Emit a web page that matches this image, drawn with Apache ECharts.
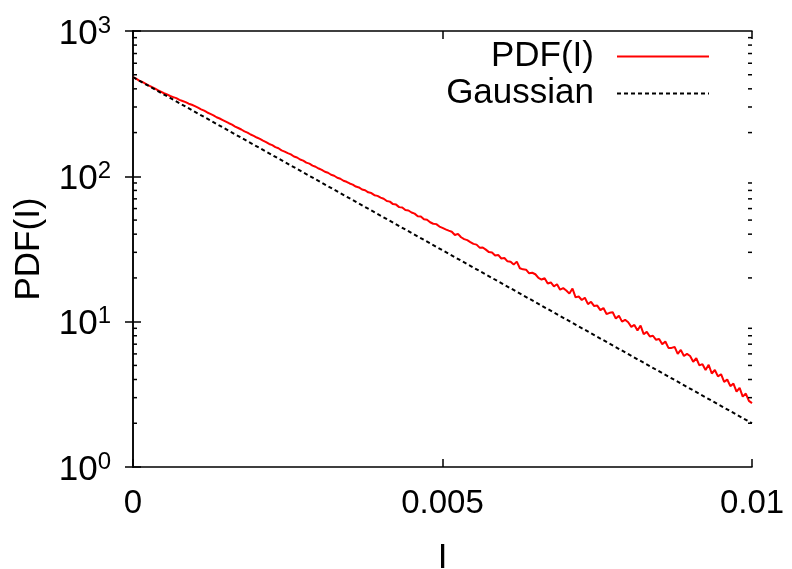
<!DOCTYPE html>
<html>
<head>
<meta charset="utf-8">
<script src="https://cdn.jsdelivr.net/npm/echarts@6/dist/echarts.min.js"></script>
<style>
  html, body { margin: 0; padding: 0; background: #fff; }
  #chart { width: 792px; height: 569px; }
</style>
</head>
<body>
<div id="chart"></div>
<script>
// histogram of intensity, bin width 0.00005
var binWidth = 0.00005;
var pdfValues = [
    481, 470, 456, 446, 435, 423, 412, 403, 392, 383,
    373, 366, 357, 351, 345, 336, 330, 324, 316, 311,
    304, 297, 289, 283, 275, 269, 263, 255, 250, 244,
    238, 232, 227, 220, 215, 210, 204, 200, 194, 190,
    185, 181, 176, 172, 167, 164, 159, 156, 151, 148,
    144.5, 141.5, 137, 134.8, 130.5, 128.2, 124.3, 122.2, 118.6, 116.4,
    113.2, 110.9, 107.5, 105.8, 102.5, 100.9, 97.8, 96.2, 93.2, 91.7,
    89.3, 87.7, 85.0, 83.9, 81.2, 80.2, 77.6, 76.7, 74.2, 73.4,
    71.4, 70.1, 67.6, 67.0, 64.4, 63.9, 61.4, 61.0, 58.6, 58.2,
    56.4, 55.4, 53.2, 52.9, 50.7, 50.3, 48.3, 47.2, 46.9, 45.1,
    44.2, 43.2, 42.3, 41.6, 39.5, 40.2, 38.1, 37.0, 36.4, 35.3,
    34.3, 33.9, 32.3, 32.4, 31.3, 30.1, 29.9, 28.5, 28.8, 27.2,
    27.4, 26.0, 25.8, 24.7, 25.9, 23.3, 22.9, 22.8, 21.5, 21.7,
    21.2, 20.0, 19.5, 19.9, 18.3, 18.6, 17.5, 18.1, 16.6, 17.0,
    16.4, 15.6, 16.9, 14.7, 14.9, 14.1, 14.6, 13.2, 13.7, 12.8,
    12.9, 12.0, 12.4, 11.3, 11.5, 11.6, 10.5, 11.0, 10.0, 10.3,
    9.9, 9.2, 9.5, 8.7, 9.4, 8.2, 8.5, 7.9, 8.0, 7.5,
    7.6, 7.0, 7.3, 6.6, 6.6, 6.7, 6.0, 6.4, 5.8, 6.0,
    5.8, 5.3, 5.6, 5.0, 5.1, 4.65, 5.05, 4.4, 4.65, 4.2,
    4.35, 3.85, 4.0, 3.6, 3.75, 3.3, 3.5, 3.05, 3.2, 2.85,
    2.75
];

// gaussian reference (straight line on the log plot)
var gaussX = [0, 0.005, 0.01];
var gaussY = [481, 31, 2.0];

// log minor tick values
var minorTicks = [2, 3, 4, 5, 6, 7, 8, 9, 20, 30, 40, 50, 60, 70, 80, 90,
                  200, 300, 400, 500, 600, 700, 800, 900];

var seriesNames = ["PDF(I)", "Gaussian"];

var FONT = "Liberation Sans";

var pdfData = pdfValues.map(function(v, i) { return [i * binWidth, v]; });
var gaussData = gaussX.map(function(x, i) { return [x, gaussY[i]]; });

var chart = echarts.init(document.getElementById("chart"));

var frameLine = { show: true, lineStyle: { color: "#000", width: 1.5 } };
var majorTick = { show: true, inside: true, length: 8, lineStyle: { color: "#000", width: 1.5 } };

chart.setOption({
    animation: false,
    backgroundColor: "#fff",
    textStyle: { fontFamily: FONT },
    grid: { left: 133, right: 40, top: 31, bottom: 102, containLabel: false, outerBoundsMode: "none" },
    legend: {
        data: seriesNames,
        orient: "vertical",
        right: 77,
        top: 34,
        align: "right",
        itemWidth: 92,
        itemHeight: 14,
        itemGap: 2,
        itemStyle: { opacity: 0 },
        textStyle: {
            fontFamily: FONT, fontSize: 35, color: "#000",
            lineHeight: 33, width: 160, align: "right",
            padding: [0, 18, 0, 0]
        }
    },
    xAxis: [{
        type: "value",
        min: 0, max: 0.01, interval: 0.005,
        name: "I",
        nameLocation: "middle",
        nameGap: 74,
        nameTextStyle: { fontFamily: FONT, fontSize: 35, color: "#000" },
        axisLine: frameLine,
        axisTick: majorTick,
        axisLabel: { fontFamily: FONT, fontSize: 33, color: "#000", margin: 20 },
        splitLine: { show: false }
    }, {
        type: "value",
        position: "top",
        min: 0, max: 0.01, interval: 0.005,
        axisLine: frameLine,
        axisTick: majorTick,
        axisLabel: { show: false },
        splitLine: { show: false }
    }],
    yAxis: [{
        type: "log",
        logBase: 10,
        min: 1, max: 1000,
        name: "PDF(I)",
        nameLocation: "middle",
        nameRotate: 90,
        nameGap: 86,
        nameTextStyle: { fontFamily: FONT, fontSize: 35, color: "#000" },
        axisLine: frameLine,
        axisTick: majorTick,
        axisLabel: {
            margin: 22,
            formatter: function(v) {
                return "{b|10}{s|" + Math.round(Math.log10(v)) + "}";
            },
            rich: {
                b: { fontFamily: FONT, fontSize: 35, lineHeight: 34, color: "#000", padding: [6, 0, 0, 0] },
                s: { fontFamily: FONT, fontSize: 24, lineHeight: 24, color: "#000", verticalAlign: "top" }
            }
        },
        splitLine: { show: false }
    }, {
        type: "log",
        logBase: 10,
        position: "right",
        min: 1, max: 1000,
        axisLine: frameLine,
        axisTick: majorTick,
        axisLabel: { show: false },
        splitLine: { show: false }
    }],
    series: [{
        name: "PDF(I)",
        type: "line",
        data: pdfData,
        symbol: "none",
        lineStyle: { color: "#ff0000", width: 2 },
        itemStyle: { color: "#ff0000" },
        z: 3
    }, {
        name: "Gaussian",
        type: "line",
        data: gaussData,
        symbol: "none",
        lineStyle: { color: "#000", width: 2, type: [4, 3] },
        itemStyle: { color: "#000" },
        z: 4
    }, {
        name: "minor",
        type: "custom",
        silent: true,
        data: minorTicks.map(function(v) { return [0, v]; }),
        encode: { x: 0, y: 1 },
        renderItem: function(params, api) {
            var v = api.value(1);
            var pl = api.coord([0, v]);
            var pr = api.coord([0.01, v]);
            var st = { stroke: "#000", lineWidth: 1.5 };
            return {
                type: "group",
                children: [
                    { type: "line", shape: { x1: pl[0], y1: pl[1], x2: pl[0] + 4, y2: pl[1] }, style: st },
                    { type: "line", shape: { x1: pr[0] - 4, y1: pr[1], x2: pr[0], y2: pr[1] }, style: st }
                ]
            };
        },
        z: 5
    }]
});
</script>
</body>
</html>
